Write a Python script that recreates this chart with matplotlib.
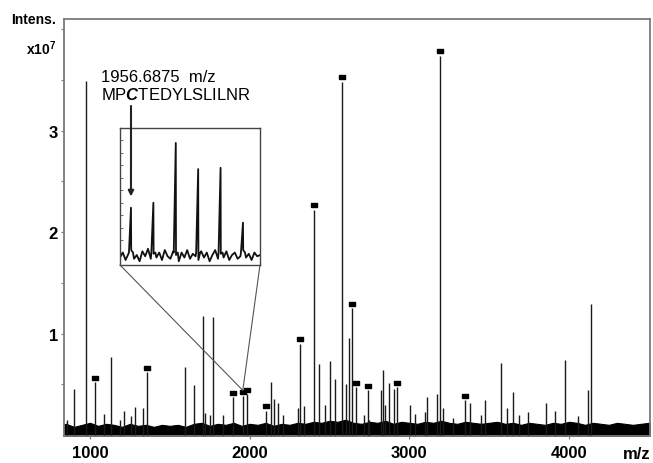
import numpy as np
import matplotlib
matplotlib.use("Agg")
import matplotlib.pyplot as plt
from matplotlib.patches import ConnectionPatch
from matplotlib.path import Path

plt.rcParams['font.family'] = ['Liberation Sans', 'DejaVu Sans']
plt.rcParams['mathtext.fontset'] = 'custom'
plt.rcParams['mathtext.it'] = 'Liberation Sans:italic:bold'
plt.rcParams['mathtext.rm'] = 'Liberation Sans:bold'
plt.rcParams['mathtext.bf'] = 'Liberation Sans:bold'

# ---------------- data (intensity in units of 1e7) ----------------
peak_mz = [858, 902, 973, 1031, 1088, 1130, 1188, 1213, 1255, 1282, 1330, 1359,
           1595, 1651, 1706, 1722, 1752, 1768, 1835, 1897, 1956.69, 1981,
           2100, 2134, 2150, 2179, 2211, 2302, 2312, 2340, 2405, 2437, 2472,
           2503, 2534, 2581, 2601, 2622, 2641, 2663, 2716, 2738, 2747, 2822,
           2837, 2847, 2871, 2902, 2921, 3004, 3037, 3098, 3113, 3171, 3190,
           3209, 3275, 3350, 3382, 3447, 3474, 3576, 3610, 3649, 3689, 3741,
           3856, 3912, 3977, 4058, 4117, 4136]
peak_int = [0.15, 0.45, 3.49, 0.52, 0.21, 0.77, 0.15, 0.24, 0.19, 0.28, 0.27, 0.62,
            0.67, 0.49, 1.17, 0.22, 0.20, 1.16, 0.20, 0.37, 0.38, 0.40,
            0.24, 0.52, 0.35, 0.32, 0.20, 0.27, 0.90, 0.29, 2.22, 0.70, 0.30,
            0.73, 0.55, 3.48, 0.50, 0.96, 1.25, 0.47, 0.20, 0.44, 0.15, 0.44,
            0.64, 0.30, 0.51, 0.45, 0.47, 0.30, 0.21, 0.23, 0.37, 0.40, 3.74,
            0.27, 0.17, 0.34, 0.32, 0.20, 0.34, 0.71, 0.27, 0.42, 0.20, 0.23,
            0.32, 0.24, 0.74, 0.19, 0.44, 1.29]
marked_mz = [1031, 1359, 1897, 1956.69, 1981, 2100, 2312, 2405, 2581, 2641,
             2663, 2738, 2921, 3190, 3350]

noise_mz = list(range(800, 4600, 50))
noise_int = [0.09, 0.11, 0.08, 0.10, 0.12,
             0.09, 0.11, 0.10, 0.08, 0.11, 0.09, 0.10, 0.08, 0.10, 0.09,
             0.10, 0.08, 0.11, 0.12, 0.09, 0.11, 0.10, 0.12, 0.09, 0.11,
             0.10, 0.12, 0.09, 0.11, 0.10, 0.12, 0.11, 0.13, 0.12, 0.14,
             0.13, 0.15, 0.12, 0.11, 0.13, 0.12, 0.14, 0.11, 0.13, 0.12,
             0.11, 0.13, 0.12, 0.14, 0.12, 0.11, 0.13, 0.12, 0.11, 0.12,
             0.13, 0.11, 0.12, 0.10, 0.12, 0.11, 0.10, 0.12, 0.11, 0.13,
             0.12, 0.10, 0.12, 0.11, 0.10, 0.12, 0.11, 0.10, 0.11, 0.12, 0.10]

x_ticks = [1000, 2000, 3000, 4000]
y_ticks = [1, 2, 3]

# inset (zoom on 1956.6875 m/z cluster), relative intensity
inset_mz = [1956.69, 1957.69, 1958.69, 1959.69, 1960.69, 1961.69]
inset_int = [0.46, 0.50, 0.98, 0.77, 0.78, 0.34]
inset_noise = [0.06, 0.10, 0.04, 0.09, 0.12, 0.05, 0.08, 0.03, 0.11, 0.07,
               0.13, 0.05, 0.09, 0.06, 0.10, 0.04, 0.12, 0.07, 0.05, 0.11,
               0.08, 0.03, 0.10, 0.06, 0.12, 0.05, 0.09, 0.07, 0.04, 0.11,
               0.06, 0.10, 0.03, 0.08, 0.12, 0.05, 0.09, 0.06, 0.11, 0.04,
               0.08, 0.10, 0.05, 0.07, 0.12, 0.06, 0.09, 0.04, 0.10, 0.07,
               0.08]

# ---------------- figure ----------------
W, H = 653, 464
fig = plt.figure(figsize=(W / 100, H / 100), dpi=100)
ax = fig.add_axes([64 / W, 1 - 437 / H, (650 - 64) / W, (437 - 20) / H])

ax.fill_between(noise_mz, -0.05, noise_int, color='black', lw=0.8, zorder=2)
ax.vlines(peak_mz, 0, peak_int, color='#1a1a1a', lw=1.0, zorder=3)

rect = Path([(-1, -0.6), (1, -0.6), (1, 0.6), (-1, 0.6), (-1, -0.6)])
mk_h = [peak_int[peak_mz.index(m)] + 0.045 for m in marked_mz]
ax.plot(marked_mz, mk_h, ls='none', marker=rect, ms=4.2, color='black', zorder=4)

ax.set_xlim(837, 4507)
ax.set_ylim(-0.01, 4.10)
for s in ax.spines.values():
    s.set_color('#7a7a7a')
    s.set_linewidth(1.3)

ax.set_xticks(x_ticks)
ax.set_xticklabels([str(v) for v in x_ticks], fontweight='bold', fontsize=12)
ax.set_yticks(y_ticks)
ax.set_yticklabels([str(v) for v in y_ticks], fontweight='bold', fontsize=12)
ax.set_yticks([0.5, 1.5, 2.5, 3.5, 4.0], minor=True)
ax.tick_params(axis='both', which='both', direction='out', length=2.5,
               width=0.8, color='#7a7a7a')
ax.tick_params(axis='x', pad=4)
ax.tick_params(axis='y', pad=2)

fig.text(56 / W, 1 - 20 / H, 'Intens.', ha='right', va='center',
         fontsize=10, fontweight='bold')
fig.text(56 / W, 1 - 49 / H, 'x10$^{7}$', ha='right', va='center',
         fontsize=10, fontweight='bold')
fig.text(637 / W, 1 - 455 / H, 'm/z', ha='center', va='center',
         fontsize=12, fontweight='bold')

# ---------------- inset ----------------
axi = fig.add_axes([120 / W, 1 - 266 / H, 140 / W, 137 / H])
nx = np.linspace(1956.2, 1962.45, len(inset_noise))
pk = np.array(inset_mz)
tx = np.concatenate([nx, pk - 0.09, pk, pk + 0.09])
ty = np.concatenate([inset_noise, np.full(len(pk), 0.10), inset_int,
                     np.full(len(pk), 0.10)])
order = np.argsort(tx)
axi.plot(tx[order], ty[order], color='#111111', lw=1.3)
axi.set_xlim(1956.2, 1962.45)
axi.set_ylim(0, 1.1)
axi.set_xticks([])
axi.set_yticks(np.arange(0, 1.05, 0.1))
axi.tick_params(axis='y', direction='in', length=2, width=0.6,
                color='#555555', labelleft=False)
for s in axi.spines.values():
    s.set_color('#444444')
    s.set_linewidth(1.0)

for xa in (0, 1):
    con = ConnectionPatch(xyA=(xa, 0), coordsA=axi.transAxes,
                          xyB=(1956.69, 0.44), coordsB=ax.transData,
                          color='#555555', lw=0.8)
    fig.add_artist(con)

# annotation
fig.text(101 / W, 1 - 77 / H, '1956.6875  m/z', ha='left', va='center', fontsize=12)
fig.text(101 / W, 1 - 95 / H, r'MP$\mathit{C}$TEDYLSLILNR', ha='left',
         va='center', fontsize=12)
axi.annotate('', xy=(inset_mz[0], 0.55), xycoords='data',
             xytext=(131 / W, 1 - 107 / H), textcoords='figure fraction',
             arrowprops=dict(arrowstyle='-|>', color='#222222', lw=1.5,
                             mutation_scale=8, shrinkA=0, shrinkB=0))

fig.savefig('out.png', dpi=100)
